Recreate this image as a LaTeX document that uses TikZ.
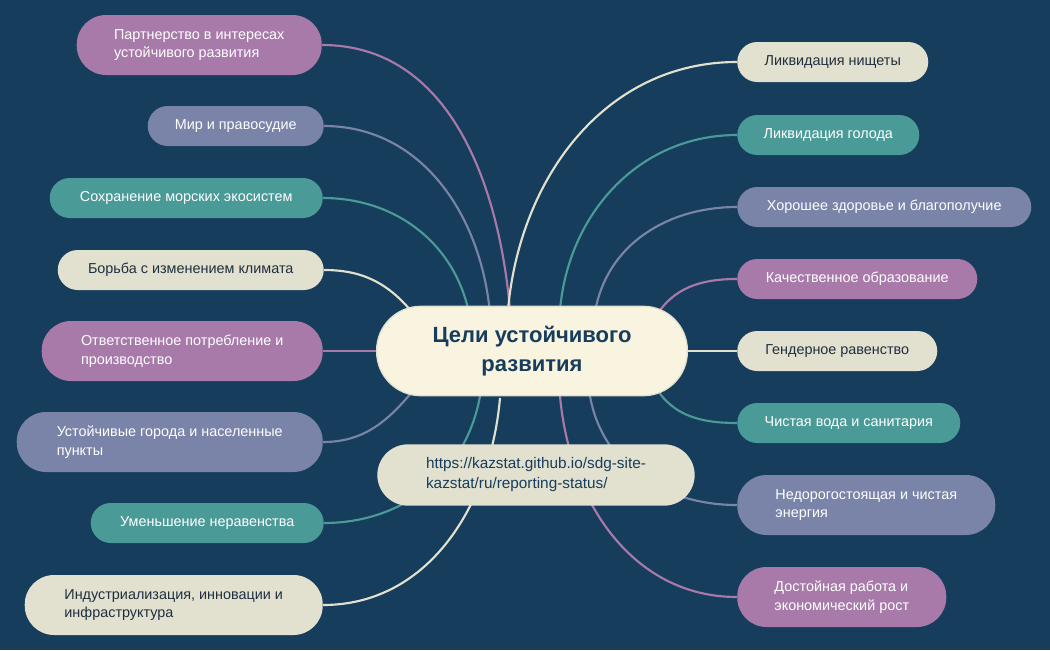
\documentclass[tikz,border=0pt]{standalone}
\usepackage{fontspec}
\setmainfont{Liberation Sans}
\pgfdeclarelayer{bg}\pgfsetlayers{bg,main}
\begin{document}
\begin{tikzpicture}[x=0.75pt,y=-0.75pt,
  gn/.style={rounded corners=15pt,minimum height=30pt,inner xsep=4pt,inner ysep=2pt,align=left,font=\fontsize{10.8}{14}\selectfont},
  tall/.style={rounded corners=22pt,minimum height=45pt},
  P/.style={gn,fill=colP,text=white},S/.style={gn,fill=colS,text=white},
  T/.style={gn,fill=colT,text=white},C/.style={gn,fill=colC,text=colD},
  ln/.style={line width=1.6pt}]
\definecolor{colBG}{HTML}{173D5C}
\definecolor{colP}{HTML}{A87AAA}
\definecolor{colS}{HTML}{7A84A8}
\definecolor{colT}{HTML}{4A9A98}
\definecolor{colC}{HTML}{E2E0CE}
\definecolor{colD}{HTML}{1F2F3F}
\definecolor{colTi}{HTML}{173D5C}
\definecolor{colF}{HTML}{F8F4E0}
\begin{pgfonlayer}{bg}
\fill[colBG] (0,0) rectangle (1050,650);
\end{pgfonlayer}
\useasboundingbox (0,0) rectangle (1050,650);
% left nodes
\node[P,tall,minimum width=183.75pt,anchor=east] (l1) at (322,45) {Партнерство в интересах\\устойчивого развития};
\node[S,minimum width=132pt,anchor=east] (l2) at (324,126) {Мир и правосудие};
\node[T,minimum width=204.75pt,anchor=east] (l3) at (323,198) {Сохранение морских экосистем};
\node[C,minimum width=199.5pt,anchor=east] (l4) at (324,270) {Борьба с изменением климата};
\node[P,tall,minimum width=210.75pt,anchor=east] (l5) at (323,351) {Ответственное потребление и\\производство};
\node[S,tall,minimum width=229.5pt,anchor=east] (l6) at (323,442) {Устойчивые города и населенные\\пункты};
\node[T,minimum width=174.75pt,anchor=east] (l7) at (324,523) {Уменьшение неравенства};
\node[C,tall,minimum width=223.5pt,anchor=east] (l8) at (323,605) {Индустриализация, инновации и\\инфраструктура};
% right nodes
\node[C,minimum width=143.25pt,anchor=west] (r1) at (737,62) {Ликвидация нищеты};
\node[T,minimum width=136.5pt,anchor=west] (r2) at (737,135) {Ликвидация голода};
\node[S,minimum width=220.5pt,anchor=west] (r3) at (737,207) {Хорошее здоровье и благополучие};
\node[P,minimum width=180pt,anchor=west] (r4) at (737,279) {Качественное образование};
\node[C,minimum width=150pt,anchor=west] (r5) at (737,351) {Гендерное равенство};
\node[T,minimum width=167.25pt,anchor=west] (r6) at (737,423) {Чистая вода и санитария};
\node[S,tall,minimum width=193.5pt,anchor=west] (r7) at (737,505) {Недорогостоящая и чистая\\энергия};
\node[P,tall,minimum width=156.75pt,anchor=west] (r8) at (737,597) {Достойная работа и\\экономический рост};
\coordinate (e1) at (510,310); \coordinate (e2) at (490,314); \coordinate (e3) at (470,318);
\coordinate (e4) at (412,312); \coordinate (e5) at (378,351); \coordinate (e6) at (412,392);
\coordinate (e7) at (480,396); \coordinate (e8) at (500,398);
\coordinate (f1) at (508,310); \coordinate (f2) at (560,310); \coordinate (f3) at (595,312);
\coordinate (f4) at (655,318); \coordinate (f5) at (688,351); \coordinate (f6) at (655,386);
\coordinate (f7) at (590,396); \coordinate (f8) at (560,396);
\begin{pgfonlayer}{bg}
\draw[ln,colP] (l1.east) to[out=0,in=95] (e1);
\draw[ln,colS] (l2.east) to[out=0,in=95] (e2);
\draw[ln,colT] (l3.east) to[out=0,in=100] (e3);
\draw[ln,colC] (l4.east) to[out=0,in=130] (e4);
\draw[ln,colP] (l5.east) -- (e5);
\draw[ln,colS] (l6.east) to[out=0,in=230] (e6);
\draw[ln,colT] (l7.east) to[out=0,in=260] (e7);
\draw[ln,colC] (l8.east) to[out=0,in=265] (e8);
\draw[ln,colC] (r1.west) to[out=180,in=85] (f1);
\draw[ln,colT] (r2.west) to[out=180,in=85] (f2);
\draw[ln,colS] (r3.west) to[out=180,in=80] (f3);
\draw[ln,colP] (r4.west) to[out=180,in=60] (f4);
\draw[ln,colC] (r5.west) -- (f5);
\draw[ln,colT] (r6.west) to[out=180,in=-60] (f6);
\draw[ln,colS] (r7.west) to[out=180,in=-80] (f7);
\draw[ln,colP] (r8.west) to[out=180,in=-85] (f8);
\end{pgfonlayer}
% center
\node[fill=colF,draw=colC,line width=1pt,rounded corners=33pt,minimum width=233pt,minimum height=67pt,align=center,text=colTi,font=\bfseries\fontsize{16.5}{22}\selectfont] (c) at (532,351) {Цели устойчивого\\развития};
\node[fill=colC,rounded corners=23pt,minimum width=238pt,minimum height=46pt,align=left,text=colTi,font=\fontsize{11.5}{15}\selectfont] (lnk) at (536,475) {https://kazstat.github.io/sdg-site-\\kazstat/ru/reporting-status/};
\end{tikzpicture}
\end{document}
